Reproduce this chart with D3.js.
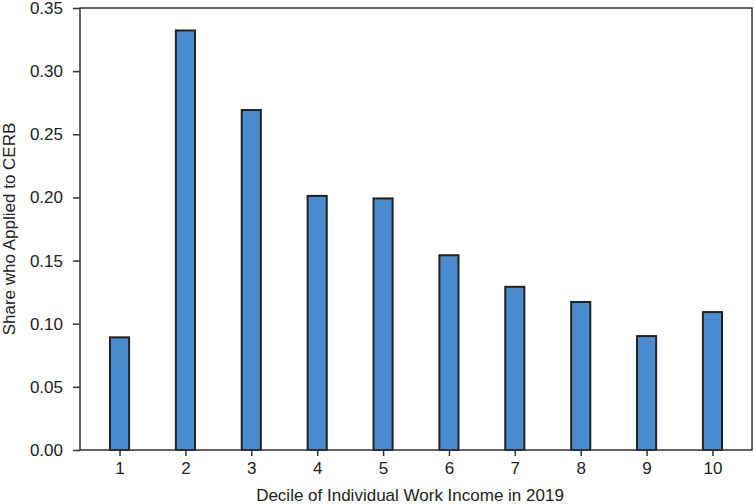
<!DOCTYPE html>
<html>
<head>
<meta charset="utf-8">
<script src="https://cdn.jsdelivr.net/npm/d3@7"></script>
<style>
  body { margin: 0; background: #fff; }
  text { font-family: "Liberation Sans", Arial, sans-serif; fill: #222; }
</style>
</head>
<body>
<svg id="chart" width="755" height="504"></svg>
<script>
// deciles and share who applied
var deciles = [1, 2, 3, 4, 5, 6, 7, 8, 9, 10];
var shares = [0.090, 0.333, 0.270, 0.202, 0.200, 0.155, 0.130, 0.118, 0.091, 0.110];
var yTicks = [0, 0.05, 0.10, 0.15, 0.20, 0.25, 0.30, 0.35];

var svg = d3.select("#chart");
var margin = { top: 8, right: 3, bottom: 54, left: 80 };
var width = svg.attr("width") - margin.left - margin.right;
var height = svg.attr("height") - margin.top - margin.bottom;

var g = svg.append("g").attr("transform", "translate(" + margin.left + "," + margin.top + ")");

var x = d3.scaleLinear().domain([0.4, 10.6]).range([0, width]);
var y = d3.scaleLinear().domain([0, 0.35]).range([height, 0]);
var barW = x(1.29) - x(1);

// bars
g.selectAll(".bar")
    .data(deciles)
    .enter().append("rect")
    .attr("class", "bar")
    .attr("x", function (d) { return x(d) - barW / 2; })
    .attr("y", function (d, i) { return y(shares[i]) + 1; })
    .attr("width", barW)
    .attr("height", function (d, i) { return height - y(shares[i]) - 1; })
    .style("fill", "#4a8dcf")
    .style("stroke", "#222")
    .style("stroke-width", 2);

// frame
g.append("rect")
    .attr("width", width)
    .attr("height", height)
    .style("fill", "none")
    .style("stroke", "#333")
    .style("stroke-width", 1.5);

// x axis
var xAxis = g.append("g")
    .attr("transform", "translate(0," + height + ")")
    .call(d3.axisBottom(x).tickValues(deciles).tickSize(6).tickPadding(6).tickFormat(d3.format("d")));
xAxis.select(".domain").remove();
xAxis.selectAll("line").style("stroke", "#333").style("stroke-width", 1.5);
xAxis.selectAll("text").style("font-size", "17px").style("fill", "#222");

// y axis
var yAxis = g.append("g")
    .call(d3.axisLeft(y).tickValues(yTicks).tickSize(7).tickPadding(10).tickFormat(d3.format(".2f")));
yAxis.select(".domain").remove();
yAxis.selectAll("line").style("stroke", "#333").style("stroke-width", 1.5);
yAxis.selectAll("text").style("font-size", "17px").style("fill", "#222");

// axis titles
svg.append("text")
    .attr("x", 410)
    .attr("y", 501)
    .attr("text-anchor", "middle")
    .style("font-size", "17px")
    .text("Decile of Individual Work Income in 2019");

svg.append("text")
    .attr("transform", "translate(15," + (margin.top + height / 2) + ") rotate(-90)")
    .attr("text-anchor", "middle")
    .style("font-size", "17px")
    .text("Share who Applied to CERB");
</script>
</body>
</html>
